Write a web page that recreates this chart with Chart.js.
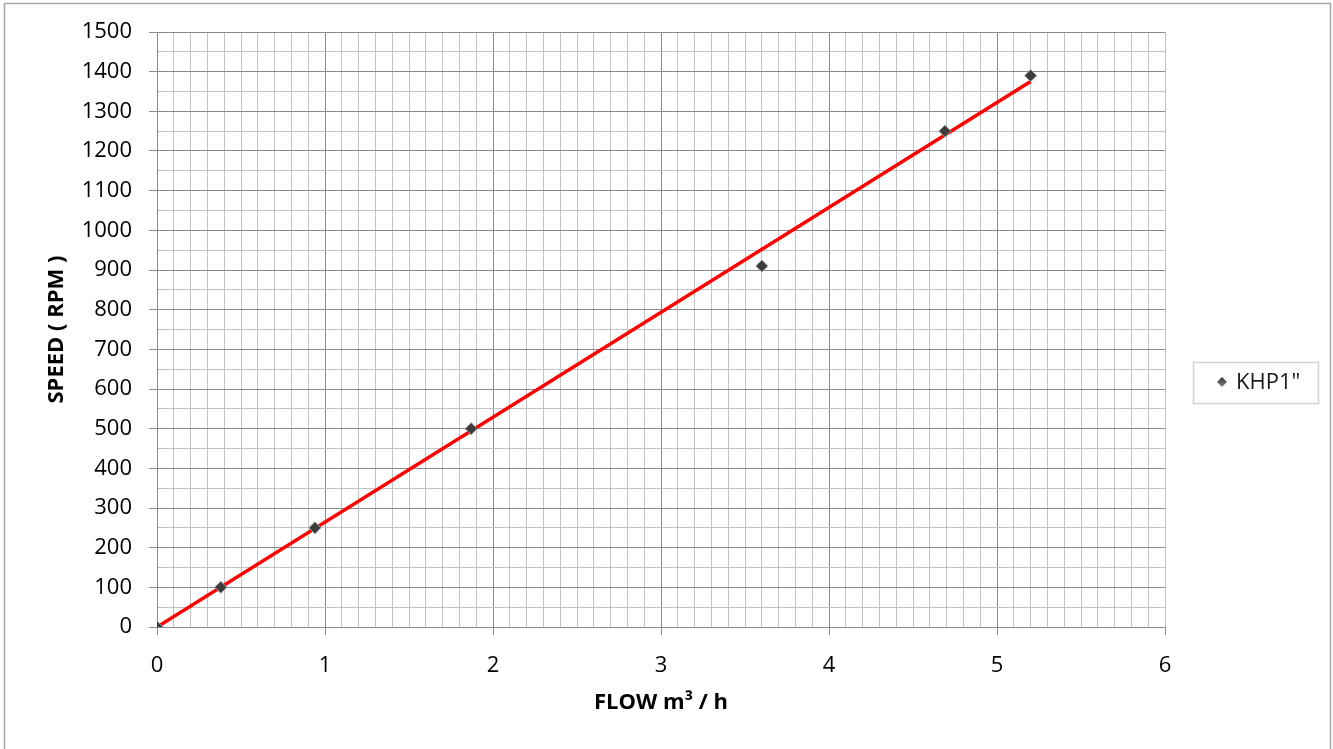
<!DOCTYPE html>
<html>
<head>
<meta charset="utf-8">
<script src="https://cdn.jsdelivr.net/npm/chart.js@4.4.0/dist/chart.umd.min.js"></script>
<style>
  html, body { margin: 0; padding: 0; background: #ffffff; }
  #wrap { position: relative; width: 1333px; height: 749px; }
</style>
</head>
<body>
<div id="wrap"><canvas id="c" width="1333" height="749"></canvas></div>
<script>
// ---- data ----
const seriesName = 'KHP1"';
const flowValues  = [0, 0.38, 0.94, 1.87, 3.60, 4.69, 5.20];
const speedValues = [0, 100, 250, 500, 910, 1250, 1390];
const trendFlow   = [0, 5.2];
const trendSpeed  = [0, 1375];
const xTitle = 'FLOW m\u00B3 / h';
const yTitle = 'SPEED ( RPM )';
const xMin = 0, xMax = 6, xMajor = 1, xMinor = 0.1;
const yMin = 0, yMax = 1500, yMajor = 100, yMinor = 50;

const MAJOR = '#8a8a8a';
const MINOR = '#c2c2c2';
const FONT = "'Open Sans', 'Noto Sans', sans-serif";

function isMajor(v, step) {
  const r = v / step;
  return Math.abs(r - Math.round(r)) < 1e-6;
}

const scatterPts = flowValues.map((x, i) => ({ x: x, y: speedValues[i] }));
const trendPts = trendFlow.map((x, i) => ({ x: x, y: trendSpeed[i] }));

const frame = {
  id: 'frame',
  beforeDraw(chart) {
    const ctx = chart.ctx;
    ctx.save();
    ctx.fillStyle = '#ffffff';
    ctx.fillRect(0, 0, chart.width, chart.height);
    ctx.strokeStyle = '#a8a8a8';
    ctx.lineWidth = 1.5;
    ctx.strokeRect(4.5, 3.5, 1326, 770);
    ctx.restore();
  },
  afterDraw(chart) {
    const ctx = chart.ctx;
    ctx.save();
    // legend box
    ctx.strokeStyle = '#d4d4d4';
    ctx.lineWidth = 1.5;
    ctx.strokeRect(1193.5, 362.5, 125, 41);
    // marker
    const mx = 1222, my = 382, r = 5;
    const g = ctx.createLinearGradient(0, my - r, 0, my + r);
    g.addColorStop(0, '#2e2e2e');
    g.addColorStop(1, '#8a8a8a');
    ctx.fillStyle = g;
    ctx.beginPath();
    ctx.moveTo(mx, my - r); ctx.lineTo(mx + r, my); ctx.lineTo(mx, my + r); ctx.lineTo(mx - r, my);
    ctx.closePath(); ctx.fill();
    ctx.fillStyle = '#1a1a1a';
    ctx.font = "22px " + FONT;
    ctx.textAlign = 'left';
    ctx.textBaseline = 'middle';
    ctx.fillText(seriesName, 1236, 383);
    ctx.restore();
  }
};

new Chart(document.getElementById('c'), {
  data: {
    datasets: [
      {
        type: 'line',
        label: 'trend',
        data: trendPts,
        borderColor: '#ff0000',
        borderWidth: 3.5,
        pointRadius: 0,
        fill: false,
        order: 2
      },
      {
        type: 'scatter',
        label: seriesName,
        data: scatterPts,
        pointStyle: 'rectRot',
        pointRadius: 6,
        backgroundColor: '#3c3c3c',
        borderColor: '#9a9a9a',
        borderWidth: 1,
        order: 1
      }
    ]
  },
  options: {
    responsive: false,
    animation: false,
    devicePixelRatio: 1,
    layout: { padding: { left: 0, top: 32, right: 168, bottom: 0 } },
    plugins: { legend: { display: false }, tooltip: { enabled: false } },
    scales: {
      x: {
        type: 'linear',
        min: xMin, max: xMax,
        afterFit(s) { s.height = 122; },
        ticks: {
          stepSize: xMinor,
          autoSkip: false,
          maxRotation: 0,
          padding: 18,
          color: '#000000',
          font: { family: FONT, size: 22 },
          callback(v) { return isMajor(v, xMajor) ? String(Math.round(v)) : ''; }
        },
        grid: {
          color(c) { const v = c.tick.value; return (isMajor(v, xMajor) && v < xMax - 1e-6) ? MAJOR : MINOR; },
          tickColor(c) { return isMajor(c.tick.value, xMajor) ? MAJOR : 'rgba(0,0,0,0)'; },
          tickLength: 8,
          lineWidth: 1
        },
        border: { color: MAJOR, width: 1 },
        title: {
          display: true,
          text: xTitle,
          color: '#000000',
          font: { family: FONT, size: 22, weight: 'bold' },
          padding: { top: 0, bottom: 33 }
        }
      },
      y: {
        type: 'linear',
        min: yMin, max: yMax,
        afterFit(s) { s.width = 157; },
        ticks: {
          stepSize: yMinor,
          autoSkip: false,
          padding: 17,
          color: '#000000',
          font: { family: FONT, size: 22 },
          callback(v) { return isMajor(v, yMajor) ? String(Math.round(v)) : ''; }
        },
        grid: {
          color(c) { return isMajor(c.tick.value, yMajor) ? MAJOR : MINOR; },
          tickColor(c) { return isMajor(c.tick.value, yMajor) ? MAJOR : 'rgba(0,0,0,0)'; },
          tickLength: 8,
          lineWidth: 1
        },
        border: { color: MAJOR, width: 1 },
        title: {
          display: true,
          text: yTitle,
          color: '#000000',
          font: { family: FONT, size: 22, weight: 'bold' },
          padding: { top: 44, bottom: 0 }
        }
      }
    }
  },
  plugins: [frame]
});
</script>
</body>
</html>
